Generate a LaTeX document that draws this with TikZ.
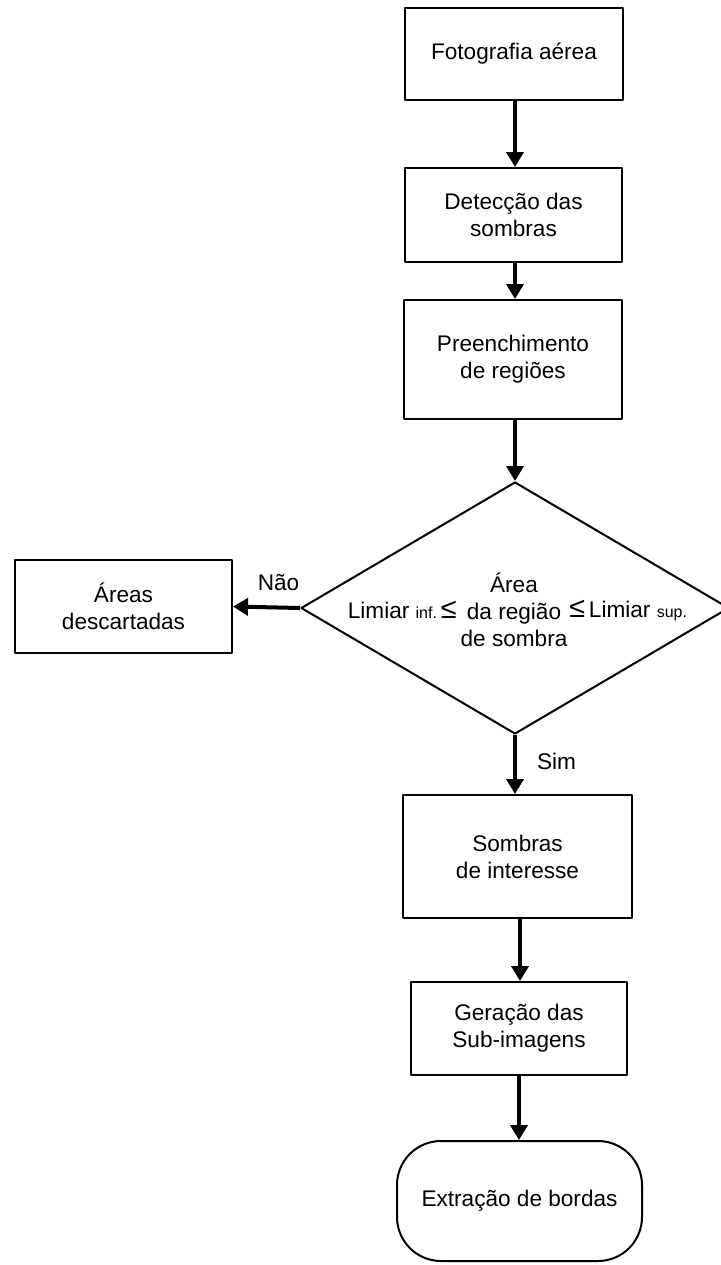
\documentclass[tikz,border=0pt]{standalone}
\usepackage{fontspec}
\setmainfont{Liberation Sans}
\usetikzlibrary{shapes.geometric,arrows.meta}
\begin{document}
\begin{tikzpicture}[x=0.5pt, y=-0.5pt, line join=round,
	font=\fontsize{11.3}{13.5}\selectfont,
	box/.style={draw, line width=1pt, rectangle, align=center, inner sep=0pt},
	decision/.style={draw, line width=1pt, diamond, inner sep=0pt, minimum width=214pt, minimum height=126pt},
	terminal/.style={box, rounded corners=22pt},
	flow/.style={line width=2pt, -{Triangle[width=8.5pt, length=7.5pt]}},
	lbl/.style={inner sep=0pt}]
	\useasboundingbox (0,0) rectangle (721,1265);
	% main chain
	\node[box, minimum width=109pt, minimum height=46pt] (foto) at (514,54) {Fotografia aérea};
	\node[box, minimum width=108.5pt, minimum height=47pt] (detec) at (513.5,215) {Detecção das\\sombras};
	\node[box, minimum width=109pt, minimum height=59.5pt] (preen) at (513,359.5) {Preenchimento\\de regiões};
	\node[decision] (area) at (515,608) {};
	\node[lbl, align=center] (areatxt) at (514,610) {Área\\da região\\de sombra};
	\node[lbl, anchor=east] (liminf) at (457,610) {Limiar {\footnotesize inf.}\,{\Large ≤}};
	\node[lbl, anchor=west] (limsup) at (569,610) {{\Large ≤}\,Limiar {\footnotesize sup.}};
	\node[box, minimum width=108.5pt, minimum height=46.5pt] (descart) at (123.5,606.5) {Áreas\\descartadas};
	\node[box, minimum width=114.5pt, minimum height=61.5pt] (interesse) at (517.5,856.5) {Sombras\\de interesse};
	\node[box, minimum width=108pt, minimum height=46.5pt] (subimg) at (519,1028.5) {Geração das\\Sub-imagens};
	\node[terminal, minimum width=122.5pt, minimum height=60pt] (bordas) at (519.5,1201) {Extração de bordas};
	% connectors
	\draw[flow] (foto.south -| 515,0) -- (detec.north -| 515,0);
	\draw[flow] (detec.south -| 515,0) -- (preen.north -| 515,0);
	\draw[flow] (preen.south -| 515,0) -- (area.north);
	\draw[flow] (area.west) -- node[lbl, above=7.5pt, pos=0.32] (nao) {Não} (descart.east);
	\draw[flow] (area.south) -- node[lbl, right=10pt, pos=0.45] (sim) {Sim} (area.south |- interesse.north);
	\draw[flow] (interesse.south -| 520,0) -- (subimg.north -| 520,0);
	\draw[flow] (subimg.south -| 519,0) -- (bordas.north -| 519,0);
\end{tikzpicture}
\end{document}
